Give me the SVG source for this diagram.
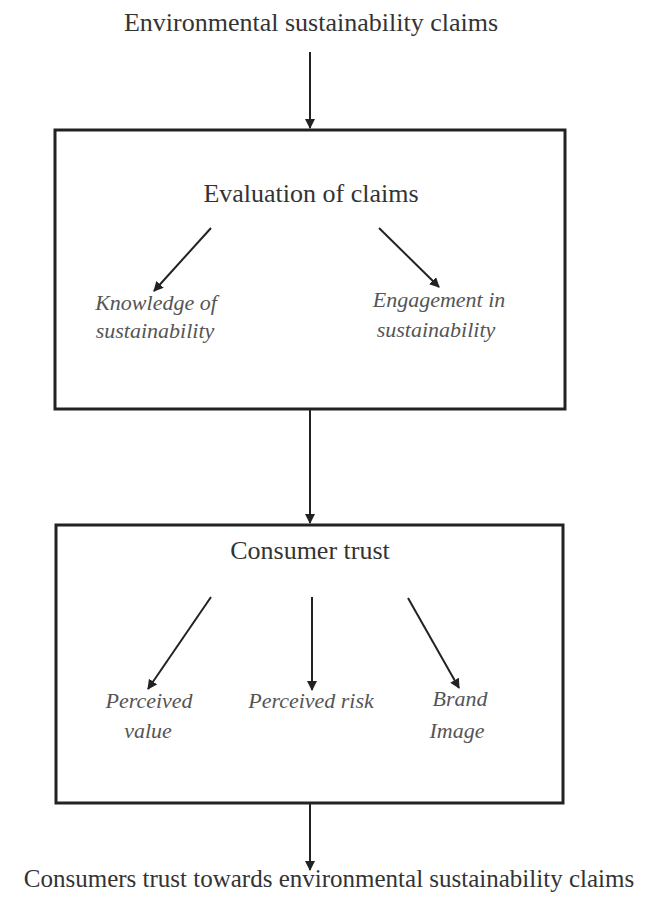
<svg xmlns="http://www.w3.org/2000/svg" width="652" height="911" viewBox="0 0 652 911">
<style>
.t{font-family:"Liberation Serif","Times New Roman",serif;font-size:26px;fill:#333;text-anchor:middle}
.b{font-family:"Liberation Serif","Times New Roman",serif;font-size:25px;fill:#333;text-anchor:middle}
.i{font-family:"Liberation Serif","Times New Roman",serif;font-size:22px;font-style:italic;fill:#555;text-anchor:middle}
.box{fill:#fff;stroke:#222;stroke-width:3}
.c{stroke:#222;stroke-width:2;fill:none;marker-end:url(#ah)}
</style>
<defs>
<marker id="ah" viewBox="0 0 10 10" refX="9" refY="5" markerWidth="5" markerHeight="5" orient="auto" markerUnits="strokeWidth">
<path d="M0,0 L10,5 L0,10 z" fill="#222"/>
</marker>
</defs>
<rect width="652" height="911" fill="#fff"/>
<g id="n-claims"><text class="t" x="311" y="31">Environmental sustainability claims</text></g>
<g id="n-eval">
<rect class="box" x="55" y="130" width="510" height="279"/>
<text class="t" x="311" y="202">Evaluation of claims</text>
</g>
<g id="n-knowledge"><text class="i" x="156" y="310">Knowledge of</text><text class="i" x="155" y="338">sustainability</text></g>
<g id="n-engagement"><text class="i" x="439" y="307">Engagement in</text><text class="i" x="436" y="337">sustainability</text></g>
<g id="n-trust">
<rect class="box" x="56" y="525" width="507" height="278"/>
<text class="t" x="310" y="559">Consumer trust</text>
</g>
<g id="n-value"><text class="i" x="149" y="708">Perceived</text><text class="i" x="148" y="738">value</text></g>
<g id="n-risk"><text class="i" x="311" y="708">Perceived risk</text></g>
<g id="n-brand"><text class="i" x="460" y="706">Brand</text><text class="i" x="457" y="738">Image</text></g>
<g id="n-result"><text class="b" x="329" y="887">Consumers trust towards environmental sustainability claims</text></g>
<g id="connectors">
<line class="c" x1="310" y1="52" x2="310" y2="128"/>
<line class="c" x1="211" y1="228" x2="154" y2="291"/>
<line class="c" x1="379" y1="228" x2="439" y2="287"/>
<line class="c" x1="310" y1="410" x2="310" y2="523"/>
<line class="c" x1="211" y1="597" x2="148" y2="689"/>
<line class="c" x1="312" y1="597" x2="312" y2="690"/>
<line class="c" x1="408" y1="598" x2="459" y2="688"/>
<line class="c" x1="310" y1="804" x2="310" y2="870"/>
</g>
</svg>
